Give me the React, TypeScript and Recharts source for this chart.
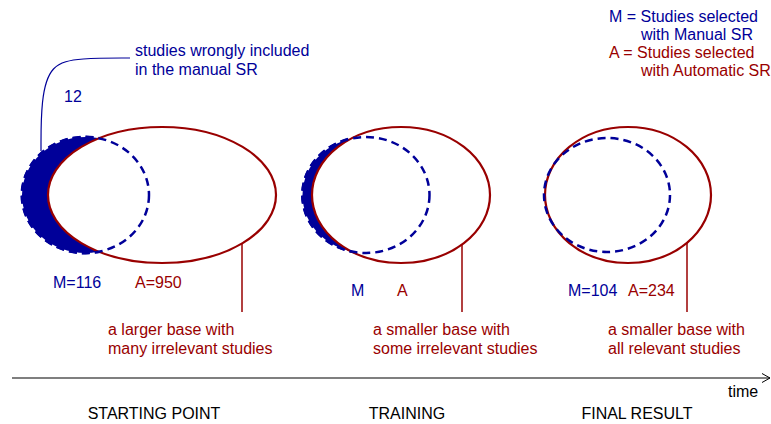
import React from 'react';
import { ComposedChart, XAxis, YAxis, Scatter, Line, ReferenceLine } from 'recharts';

const W = 771;
const H = 424;
const BLUE = '#000099';
const RED = '#990000';
const FONT = '"Liberation Sans", Arial, Helvetica, sans-serif';

// Stage names along the time axis
const stageNames = ['STARTING POINT', 'TRAINING', 'FINAL RESULT'];
const stageX = [154, 407, 637];

// Manual SR sets (blue, dashed) – centre and radii in diagram units
const manualX = [85.5, 366, 607];
const manualY = [195, 195, 195];
const manualRx = [63.5, 63.5, 63];
const manualRy = [58, 58, 57];
const manualFilled = [true, true, false];

// Automatic SR sets (red, solid)
const autoX = [162, 401, 628];
const autoY = [195, 195, 195];
const autoRx = [114, 89, 83];
const autoRy = [68, 68, 68];

// Set size labels
const mLabels = ['M=116', 'M', 'M=104'];
const mLabelX = [53, 351, 568];
const aLabels = ['A=950', 'A', 'A=234'];
const aLabelX = [135, 397, 628];
const countLabelY = [282, 290, 290];

// Descriptions under each stage
const descLine1 = ['a larger base with', 'a smaller base with', 'a smaller base with'];
const descLine2 = ['many irrelevant studies', 'some irrelevant studies', 'all relevant studies'];
const descX = [108, 373, 608];
const connectorX = [242, 462, 687];

// Legend
const legendLines = ['M = Studies selected', 'with Manual SR', 'A = Studies selected', 'with Automatic SR'];
const legendX = [609, 641, 609, 641];
const legendY = [16, 34, 52, 70];
const legendColor = [BLUE, BLUE, RED, RED];

// Leader annotation
const leaderPath = [
  { x: 41, y: 151 },
  { x: 41, y: 100 },
  { x: 50, y: 64 },
  { x: 80, y: 58 },
  { x: 130, y: 58 },
];
const noteLines = ['studies wrongly included', 'in the manual SR'];
const noteX = [135, 135];
const noteY = [50, 69];
const wrongCount = '12';

const arrowHead = [
  { x: 762, y: 373.5 },
  { x: 770, y: 378 },
  { x: 762, y: 382.5 },
];
const axisY = 378;

const kx = 1; // pixels per unit (domain equals plot size)

const manualData = manualX.map((x, i) => ({ x, y: manualY[i], rx: manualRx[i], ry: manualRy[i], filled: manualFilled[i] }));
const manualFillData = manualData.filter((d) => d.filled);
const autoData = autoX.map((x, i) => ({ x, y: autoY[i], rx: autoRx[i], ry: autoRy[i] }));

type T = { x: number; y: number; text: string; color: string; anchor?: string; size?: number };
const texts: T[] = [];
stageNames.forEach((s, i) => texts.push({ x: stageX[i], y: 413, text: s, color: '#000', anchor: 'middle' }));
mLabels.forEach((s, i) => texts.push({ x: mLabelX[i], y: countLabelY[i], text: s, color: BLUE }));
aLabels.forEach((s, i) => texts.push({ x: aLabelX[i], y: countLabelY[i], text: s, color: RED }));
descLine1.forEach((s, i) => texts.push({ x: descX[i], y: 329, text: s, color: RED }));
descLine2.forEach((s, i) => texts.push({ x: descX[i], y: 348, text: s, color: RED }));
legendLines.forEach((s, i) => texts.push({ x: legendX[i], y: legendY[i], text: s, color: legendColor[i] }));
noteLines.forEach((s, i) => texts.push({ x: noteX[i], y: noteY[i], text: s, color: BLUE }));
texts.push({ x: 64, y: 96, text: wrongCount, color: BLUE });
texts.push({ x: 728, y: 391, text: 'time', color: '#000' });

const EllipseShape = (mode: 'fill' | 'auto' | 'dash') => (props: any) => {
  const { cx, cy, payload } = props;
  const rx = payload.rx * kx;
  const ry = payload.ry * kx;
  if (mode === 'fill')
    return <ellipse cx={cx} cy={cy} rx={rx} ry={ry} fill={BLUE} stroke={BLUE} strokeWidth={3} strokeDasharray="8 5" />;
  if (mode === 'auto')
    return <ellipse cx={cx} cy={cy} rx={rx} ry={ry} fill="#fff" stroke={RED} strokeWidth={2.2} />;
  return <ellipse cx={cx} cy={cy} rx={rx} ry={ry} fill="none" stroke={BLUE} strokeWidth={2.5} strokeDasharray="8 5" />;
};

const TextShape = (props: any) => {
  const { cx, cy, payload } = props;
  return (
    <text
      x={cx}
      y={cy}
      fill={payload.color}
      textAnchor={payload.anchor || 'start'}
      dominantBaseline="central"
      fontFamily={FONT}
      fontSize={payload.size || 16}
    >
      {payload.text}
    </text>
  );
};

export default function App() {
  return (
    <div style={{ position: 'absolute', left: 0, top: 0, width: W, height: H, background: '#fff' }}>
      <ComposedChart width={W} height={H} margin={{ top: 0, right: 0, bottom: 0, left: 0 }}>
        <XAxis type="number" dataKey="x" domain={[0, W]} allowDataOverflow hide />
        <YAxis type="number" dataKey="y" domain={[0, H]} reversed allowDataOverflow hide />
        <Scatter data={manualFillData} shape={EllipseShape('fill')} isAnimationActive={false} />
        <Scatter data={autoData} shape={EllipseShape('auto')} isAnimationActive={false} />
        <Scatter data={manualData} shape={EllipseShape('dash')} isAnimationActive={false} />
        {connectorX.map((x, i) => (
          <ReferenceLine
            key={'c' + i}
            segment={[
              { x, y: autoY[i] + autoRy[i] * Math.sqrt(Math.max(0, 1 - ((x - autoX[i]) / autoRx[i]) ** 2)) },
              { x, y: 312 },
            ]}
            stroke={RED}
            strokeWidth={1.5}
          />
        ))}
        <ReferenceLine segment={[{ x: 12, y: axisY }, { x: 770, y: axisY }]} stroke="#000" strokeWidth={1.2} />
        <Line data={arrowHead} dataKey="y" type="linear" stroke="#000" strokeWidth={1} dot={false} activeDot={false} isAnimationActive={false} />
        <Line data={leaderPath} dataKey="y" type="basis" stroke={BLUE} strokeWidth={1.2} dot={false} activeDot={false} isAnimationActive={false} />
        <Scatter data={texts} shape={TextShape} isAnimationActive={false} />
      </ComposedChart>
    </div>
  );
}
